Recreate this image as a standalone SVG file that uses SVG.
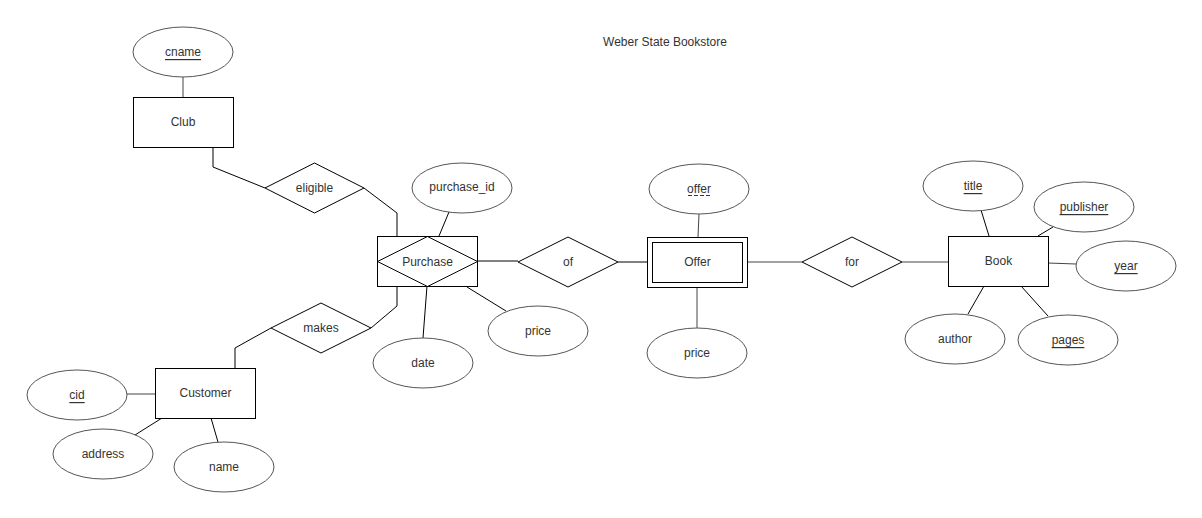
<svg xmlns="http://www.w3.org/2000/svg" width="1202" height="518" viewBox="0 0 1202 518">
<style>
text{font-family:"Liberation Sans",Arial,sans-serif;font-size:12px;fill:#333;text-anchor:middle;dominant-baseline:central}
.u{text-decoration:underline}
.e{fill:#fff;stroke:#555;stroke-width:1}
.r{fill:#fff;stroke:#000;stroke-width:1}
.c{fill:none;stroke:#000;stroke-width:1}
.ca{fill:none;stroke:#444;stroke-width:1}
</style>
<rect width="1202" height="518" fill="#fff"/>
<text x="665" y="42">Weber State Bookstore</text>
<g id="connectors">
<path class="ca" d="M183 77V97"/>
<path class="c" d="M213 147V167L265 188"/>
<path class="c" d="M364 188L397 213V236"/>
<path class="c" d="M397 286V306L371 328"/>
<path class="c" d="M271 328L235 348V368"/>
<path class="ca" d="M127 394H155"/>
<path class="c" d="M135 435L162 418"/>
<path class="c" d="M211 418L218 442"/>
<path class="c" d="M449 212L439 236"/>
<path class="c" d="M477 261H518"/>
<path class="c" d="M467 287L506 311"/>
<path class="c" d="M427 286L423 338"/>
<path class="c" d="M618 262H647"/>
<path class="ca" d="M699 214L698 237"/>
<path class="ca" d="M697 287V328"/>
<path class="ca" d="M747 262H802"/>
<path class="ca" d="M902 262H948"/>
<path class="c" d="M981 210L989 236"/>
<path class="c" d="M1053 227L1038 236"/>
<path class="ca" d="M1048 263L1076 264"/>
<path class="c" d="M984 286L968 314"/>
<path class="c" d="M1021 286L1048 316"/>
</g>
<g id="cname"><ellipse class="e" cx="183" cy="52" rx="50" ry="25"/><text class="u" x="183" y="52">cname</text></g>
<g id="club"><rect class="r" x="133.5" y="97.5" width="100" height="50"/><text x="183" y="122">Club</text></g>
<g id="eligible"><path class="r" d="M265 188L314.5 163L364 188L314.5 213Z"/><text x="314.5" y="188">eligible</text></g>
<g id="purchase"><rect class="r" x="377.5" y="236.5" width="100" height="50"/><path class="c" d="M377.5 261.5L427.5 236.5L477.5 261.5L427.5 286.5Z"/><text x="427.5" y="261.5">Purchase</text></g>
<g id="purchase_id"><ellipse class="e" cx="462" cy="188" rx="50" ry="25"/><text x="462" y="187">purchase_id</text></g>
<g id="purchase_price"><ellipse class="e" cx="538" cy="331" rx="50" ry="25"/><text x="538" y="331">price</text></g>
<g id="date"><ellipse class="e" cx="423" cy="363" rx="50" ry="25"/><text x="423" y="363">date</text></g>
<g id="makes"><path class="r" d="M271 328L321 303L371 328L321 353Z"/><text x="321" y="328">makes</text></g>
<g id="customer"><rect class="r" x="155.5" y="368.5" width="100" height="50"/><text x="205.5" y="393">Customer</text></g>
<g id="cid"><ellipse class="e" cx="77" cy="395" rx="50" ry="25"/><text class="u" x="77" y="395">cid</text></g>
<g id="address"><ellipse class="e" cx="103" cy="454" rx="50" ry="25"/><text x="103" y="454">address</text></g>
<g id="name"><ellipse class="e" cx="224" cy="467" rx="50" ry="25"/><text x="224" y="467">name</text></g>
<g id="of"><path class="r" d="M518 262L568 237L618 262L568 287Z"/><text x="568" y="262">of</text></g>
<g id="offer_entity"><rect class="r" x="647.5" y="237.5" width="100" height="50"/><rect class="r" x="652.5" y="242.5" width="90" height="40"/><text x="697.5" y="262">Offer</text></g>
<g id="offer_attr"><ellipse class="e" cx="699" cy="189" rx="50" ry="25"/><text x="699" y="189">offer</text><path d="M688 195.5H711" stroke="#333" stroke-width="1" stroke-dasharray="4,2"/></g>
<g id="offer_price"><ellipse class="e" cx="697" cy="353" rx="50" ry="25"/><text x="697" y="353">price</text></g>
<g id="for"><path class="r" d="M802 262L852 237L902 262L852 287Z"/><text x="852" y="262">for</text></g>
<g id="book"><rect class="r" x="948.5" y="236.5" width="100" height="50"/><text x="998.5" y="261">Book</text></g>
<g id="title"><ellipse class="e" cx="973" cy="186" rx="50" ry="25"/><text class="u" x="973" y="186">title</text></g>
<g id="publisher"><ellipse class="e" cx="1084" cy="207" rx="50" ry="25"/><text class="u" x="1084" y="207">publisher</text></g>
<g id="year"><ellipse class="e" cx="1126" cy="266" rx="50" ry="25"/><text class="u" x="1126" y="266">year</text></g>
<g id="author"><ellipse class="e" cx="955" cy="339" rx="50" ry="25"/><text x="955" y="339">author</text></g>
<g id="pages"><ellipse class="e" cx="1068" cy="340" rx="50" ry="25"/><text class="u" x="1068" y="340">pages</text></g>
</svg>
